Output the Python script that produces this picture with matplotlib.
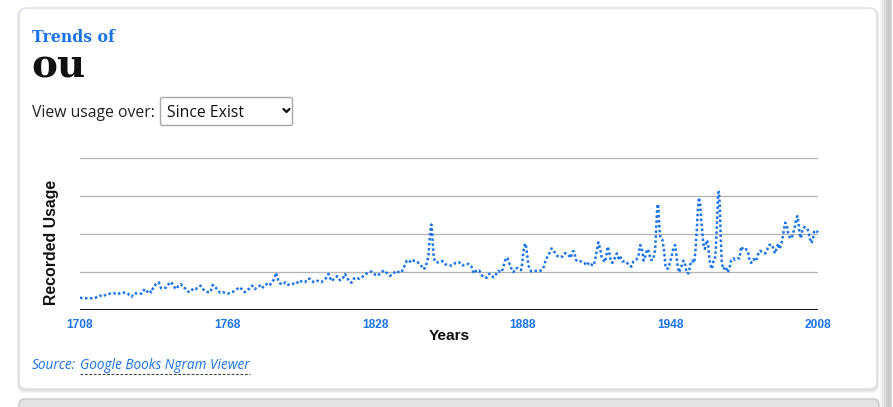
import matplotlib
matplotlib.use("Agg")
import matplotlib.pyplot as plt
from matplotlib.patches import FancyBboxPatch, Rectangle
import numpy as np

# ---------------- data ----------------
years = [1708, 1710, 1712, 1714, 1716, 1717, 1719, 1722, 1723, 1725, 1727, 1729, 1730,
         1733, 1734, 1735, 1736, 1737, 1738, 1740, 1741, 1742, 1743, 1744, 1745, 1746,
         1747, 1748, 1749, 1750, 1751, 1752, 1753, 1754, 1755, 1757, 1758, 1759, 1760,
         1761, 1762, 1763, 1764, 1765, 1766, 1768, 1770, 1771, 1772, 1773, 1774, 1775,
         1776, 1777, 1778, 1779, 1780, 1781, 1782, 1783, 1784, 1785, 1786, 1787, 1787.7,
         1788.5, 1789.3, 1790.4, 1791.5, 1792.5, 1794, 1795, 1796, 1797, 1798, 1799.5,
         1800.5, 1801.5, 1803, 1804.5, 1806, 1807, 1808, 1809, 1809.6, 1810.3, 1811.4,
         1812.6, 1813.7, 1815, 1815.7, 1816.6, 1817.4, 1818.4, 1819.4, 1820.5, 1821.4,
         1822.5, 1824, 1825.2, 1826.6, 1828, 1829, 1830.4, 1831.6, 1833, 1834, 1835.4,
         1836.3, 1837.4, 1838.7, 1839.4, 1840.1, 1840.8, 1841.8, 1842.8, 1843.5, 1844.5,
         1845.6, 1846.6, 1847.3, 1848.2, 1848.9, 1849.6, 1850, 1850.4, 1850.8, 1851.2,
         1851.5, 1851.8, 1852.3, 1853.7, 1855.3, 1856.4, 1857.7, 1859.2, 1860.7, 1862,
         1863.4, 1864.8, 1866.1, 1867, 1867.6, 1868.2, 1869.2, 1870.3, 1871, 1872, 1873.3,
         1874.3, 1875, 1876, 1877, 1878, 1879.1, 1879.8, 1880.3, 1880.8, 1881.3, 1881.8,
         1882.3, 1882.9, 1883.5, 1884.2, 1885, 1886.1, 1887.3, 1887.8, 1888.1, 1888.4,
         1888.9, 1889.3, 1889.7, 1890.1, 1890.6, 1891.4, 1892.9, 1894.7, 1895.9, 1896.6,
         1897.4, 1898.4, 1899.1, 1899.7, 1900.4, 1901.5, 1902.7, 1904.2, 1905.2, 1906.5,
         1907.5, 1908.2, 1908.9, 1909.6, 1910.4, 1911.7, 1913, 1914, 1914.9, 1916, 1916.8,
         1917.4, 1918.1, 1918.7, 1919.4, 1920, 1920.7, 1921.4, 1922, 1922.5, 1923.1,
         1923.7, 1924.4, 1925.2, 1926.2, 1926.9, 1927.5, 1928.5, 1929.9, 1931, 1932.1,
         1933, 1934.1, 1935, 1935.7, 1936.4, 1937.1, 1937.8, 1938.5, 1939.2, 1940, 1941,
         1941.8, 1942.2, 1942.5, 1942.8, 1943.1, 1943.5, 1944, 1944.7, 1945.4, 1946.1,
         1947.1, 1947.8, 1948.5, 1949.2, 1949.9, 1950.3, 1950.9, 1951.5, 1952.4, 1953.3,
         1954, 1954.6, 1955.5, 1956, 1956.8, 1957.7, 1958.2, 1958.8, 1959.2, 1959.6,
         1960.1, 1960.5, 1961, 1961.4, 1962, 1962.8, 1963.3, 1963.8, 1964.2, 1964.9,
         1965.5, 1966.1, 1966.5, 1967, 1967.4, 1967.7, 1968.1, 1968.5, 1968.9, 1969.5,
         1970.5, 1971.3, 1972, 1972.7, 1973.6, 1974.3, 1975.3, 1976.1, 1976.8, 1977.7,
         1978.6, 1979.5, 1980, 1980.8, 1981.8, 1982.7, 1983.5, 1984.5, 1985.6, 1986.6,
         1987.3, 1988.1, 1989.3, 1989.8, 1990.5, 1991.2, 1991.8, 1992.4, 1993, 1993.5,
         1994.1, 1994.7, 1995.3, 1995.9, 1996.6, 1997.3, 1997.9, 1998.6, 1999.2, 1999.6,
         2000.1, 2000.5, 2001, 2001.7, 2002.4, 2003.1, 2003.7, 2004.2, 2004.7, 2005.3,
         2005.9, 2006.4, 2007, 2008]

usage = [0.32, 0.31, 0.31, 0.31, 0.38, 0.35, 0.42, 0.44, 0.41, 0.46, 0.45, 0.35, 0.44,
         0.43, 0.53, 0.46, 0.53, 0.46, 0.63, 0.73, 0.57, 0.57, 0.59, 0.68, 0.74, 0.64,
         0.55, 0.63, 0.68, 0.59, 0.56, 0.48, 0.48, 0.57, 0.55, 0.64, 0.55, 0.49, 0.47,
         0.47, 0.66, 0.60, 0.53, 0.45, 0.47, 0.43, 0.47, 0.52, 0.56, 0.60, 0.53, 0.47,
         0.53, 0.57, 0.64, 0.55, 0.59, 0.64, 0.57, 0.66, 0.68, 0.64, 0.73, 0.82, 0.98,
         0.80, 0.70, 0.67, 0.73, 0.67, 0.66, 0.70, 0.69, 0.78, 0.75, 0.73,
         0.82, 0.82, 0.73, 0.77, 0.73, 0.78, 0.84, 0.95, 0.85, 0.76, 0.83,
         0.89, 0.78, 0.85, 0.95, 0.85, 0.75, 0.72, 0.83, 0.86, 0.82,
         0.86, 0.93, 1.00, 1.01, 0.93, 0.90, 0.99, 1.04, 0.96, 0.90, 0.95,
         1.03, 1.00, 0.99, 1.10, 1.18, 1.29, 1.25, 1.33, 1.30, 1.29,
         1.24, 1.19, 1.08, 1.10, 1.23, 1.40, 1.75, 2.06, 2.25, 2.00,
         1.65, 1.40, 1.27, 1.25, 1.29, 1.21, 1.17, 1.17, 1.24, 1.26,
         1.17, 1.21, 1.21, 1.16, 1.05, 0.96, 1.05, 1.04, 0.95, 0.86, 0.85,
         0.95, 0.95, 0.86, 0.93, 1.03, 0.99, 1.07, 1.18, 1.30, 1.38, 1.36,
         1.26, 1.17, 1.07, 1.00, 1.10, 1.10, 1.05, 1.24, 1.45, 1.60,
         1.75, 1.68, 1.50, 1.27, 1.10, 1.02, 1.03, 1.02, 1.06, 1.15,
         1.34, 1.43, 1.53, 1.62, 1.58, 1.45, 1.39, 1.41, 1.50, 1.45,
         1.37, 1.54, 1.54, 1.32, 1.27, 1.28, 1.24, 1.17, 1.25, 1.19, 1.17,
         1.32, 1.56, 1.78, 1.63, 1.41, 1.32, 1.26, 1.45, 1.67, 1.54,
         1.32, 1.24, 1.34, 1.49, 1.36, 1.42, 1.28, 1.28, 1.19, 1.14,
         1.28, 1.32, 1.42, 1.71, 1.63, 1.30, 1.42, 1.60, 1.54, 1.32, 1.32,
         1.58, 2.10, 2.54, 2.79, 2.72, 2.19, 1.89, 1.85, 1.58, 1.10,
         1.09, 1.24, 1.41, 1.63, 1.71, 1.54, 1.19, 0.99, 1.13, 1.30,
         1.19, 0.97, 0.97, 1.19, 1.30, 1.24, 1.58, 2.19, 2.68, 2.96,
         2.80, 2.40, 2.02, 1.73, 1.61, 1.84, 1.76, 1.39, 1.19, 1.08,
         1.28, 1.32, 1.67, 2.37, 3.07, 3.11, 2.72, 1.84, 1.24, 1.07,
         1.14, 0.99, 1.10, 1.30, 1.36, 1.32, 1.36, 1.36, 1.67, 1.58,
         1.60, 1.56, 1.36, 1.24, 1.34, 1.28, 1.45, 1.56, 1.50, 1.49,
         1.58, 1.71, 1.72, 1.63, 1.49, 1.63, 1.75, 1.60, 1.72, 1.85,
         2.10, 2.30, 2.22, 2.02, 1.89, 1.89, 2.02, 2.19, 2.41, 2.47,
         2.28, 2.02, 1.89, 2.11, 2.18, 2.17, 2.15, 2.02, 1.89, 1.76,
         1.84, 2.06, 2.10, 2.04]

xticks = [1708, 1768, 1828, 1888, 1948, 2008]
grid_levels = [1, 2, 3, 4]

BLUE = "#1a73e8"
W, H = 893, 407

fig = plt.figure(figsize=(W / 100, H / 100), dpi=100)
fig.patch.set_facecolor("white")

# background / decoration layer in pixel coordinates
bg = fig.add_axes([0, 0, 1, 1], zorder=0)
bg.set_xlim(0, W)
bg.set_ylim(H, 0)
bg.axis("off")

# right bevel strip and bottom neighbour card
for i, c in enumerate(["#f2f2f2", "#e6e6e6", "#dadada", "#cfcfcf", "#c6c6c6", "#d4d4d4"]):
    bg.add_patch(Rectangle((880 + i * 2, 0), 2, H, color=c, lw=0))
bg.add_patch(FancyBboxPatch((19, 399), 860, 30, boxstyle="round,pad=0,rounding_size=6",
                            facecolor="#e4e4e4", edgecolor="#c8c8c8", lw=1))
# card shadow
for k, (off, c) in enumerate([(4, "#f1f1f1"), (3, "#ebebeb"), (2, "#e4e4e4")]):
    bg.add_patch(FancyBboxPatch((19 - off * 0.5, 8), 858 + off, 381 + off,
                                boxstyle="round,pad=0,rounding_size=8",
                                facecolor=c, edgecolor="none"))
bg.add_patch(FancyBboxPatch((19, 8), 858, 381, boxstyle="round,pad=0,rounding_size=8",
                            facecolor="white", edgecolor="#d9dee8", lw=1))

# header texts
bg.text(32, 42, "Trends of", color=BLUE, fontsize=11.3, fontweight="bold",
        family="DejaVu Serif", va="baseline", ha="left")
bg.text(31, 78, "ou", color="#111111", fontsize=28, fontweight="bold",
        family="DejaVu Serif", va="baseline", ha="left")
bg.text(32, 117, "View usage over:", color="#222222", fontsize=11.3,
        family="Open Sans", va="baseline", ha="left")

# dropdown
bg.add_patch(FancyBboxPatch((160.5, 97.5), 132, 28, boxstyle="round,pad=0,rounding_size=2",
                            facecolor="white", edgecolor="#a8a8a8", lw=1))
bg.text(167, 117, "Since Exist", color="#111111", fontsize=11.3,
        family="Open Sans", va="baseline", ha="left")
bg.plot([283.5, 286.5, 289.5], [109, 112, 109], color="#111111", lw=1.6,
        solid_capstyle="round", solid_joinstyle="round")

# source line
t1 = bg.text(32, 369, "Source:", color=BLUE, fontsize=9.8, style="italic",
             family="Open Sans", va="baseline", ha="left")
t2 = bg.text(80, 369, "Google Books Ngram Viewer", color=BLUE, fontsize=9.8,
             style="italic", family="Open Sans", va="baseline", ha="left")
fig.canvas.draw()
ext = t2.get_window_extent(fig.canvas.get_renderer())
x_end = ext.x1
bg.plot([80, x_end], [373.5, 373.5], color="#444444", lw=0.8, ls=(0, (2.5, 1.5)))

# ---------------- chart axes ----------------
left, right = 80 / W, 818 / W
bottom, top = (H - 310) / H, (H - 158) / H
ax = fig.add_axes([left, bottom, right - left, top - bottom], zorder=2)
ax.set_facecolor("none")
ax.set_xlim(1708, 2008)
ax.set_ylim(0, 4)

for g in grid_levels:
    ax.axhline(g, color="#b4b4b4", lw=0.9, zorder=1)
ax.axhline(0, color="#111111", lw=1.4, zorder=3)

ax.plot(years, usage, color=BLUE, lw=1.8, ls=(0, (1, 1.0)), zorder=4,
        clip_on=False, dash_capstyle="butt")

for s in ax.spines.values():
    s.set_visible(False)
ax.set_yticks([])
ax.set_xticks(xticks)
ax.set_xticklabels([str(x) for x in xticks], color=BLUE, fontsize=8.6,
                   fontweight="bold", family="Liberation Sans")
ax.tick_params(axis="x", length=0, pad=6.5)

ax.set_xlabel("Years", fontsize=11.1, fontweight="bold", family="Liberation Sans",
              color="#111111")
ax.xaxis.set_label_coords(0.5, (310 - 329) / 152)
ax.set_ylabel("Recorded Usage", fontsize=11.4, fontweight="bold",
              family="Liberation Sans", color="#111111")
ax.yaxis.set_label_coords((59 - 80) / 738, (310 - 242) / 152)

fig.savefig("out.png", dpi=100, facecolor=fig.get_facecolor())
